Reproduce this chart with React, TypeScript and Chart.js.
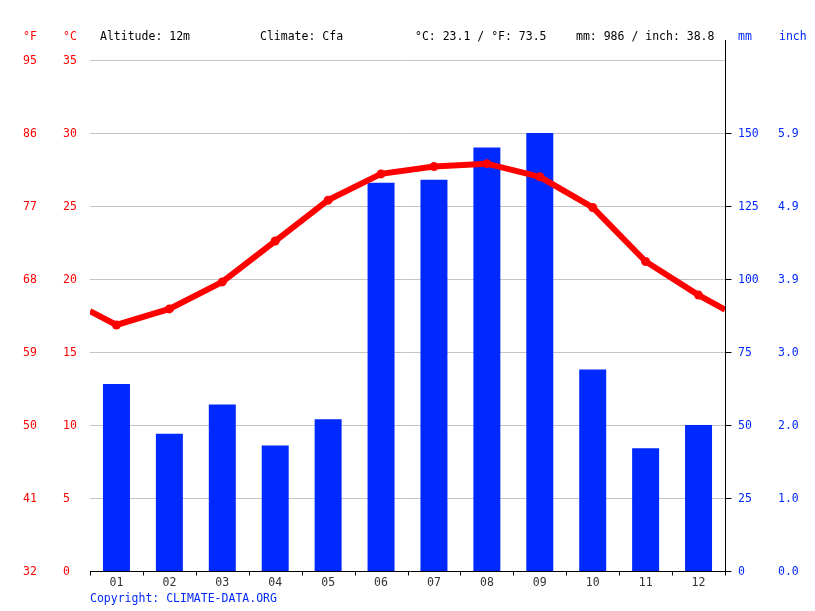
import React, { useEffect, useRef } from "react";
import Chart from "chart.js/auto";

const months = ["01", "02", "03", "04", "05", "06", "07", "08", "09", "10", "11", "12"];
const precipMm = [64, 47, 57, 43, 52, 133, 134, 145, 150, 69, 42, 50];
const tempC = [16.85, 17.95, 19.8, 22.6, 25.4, 27.2, 27.7, 27.9, 27.0, 24.9, 21.2, 18.9];
const tempEdgeStart = 17.8;
const tempEdgeEnd = 17.9;
const cTicks = [0, 5, 10, 15, 20, 25, 30, 35];
const fTicks = ["32", "41", "50", "59", "68", "77", "86", "95"];
const mmTicks = [0, 25, 50, 75, 100, 125, 150];
const inchTicks = ["0.0", "1.0", "2.0", "3.0", "3.9", "4.9", "5.9"];
const headerTexts = [
  { text: "°F", x: 23, color: "#ff0000" },
  { text: "°C", x: 63, color: "#ff0000" },
  { text: "Altitude: 12m", x: 100, color: "#000000" },
  { text: "Climate: Cfa", x: 260, color: "#000000" },
  { text: "°C: 23.1 / °F: 73.5", x: 415, color: "#000000" },
  { text: "mm: 986 / inch: 38.8", x: 576, color: "#000000" },
  { text: "mm", x: 738, color: "#0029ff" },
  { text: "inch", x: 779, color: "#0029ff" },
];
const copyright = "Copyright: CLIMATE-DATA.ORG";

const RED = "#ff0000";
const BLUE = "#0029ff";
const FONT = '11.5px "DejaVu Sans Mono", monospace';

const decor = {
  id: "decor",
  beforeDatasetsDraw(chart: any) {
    const { ctx, chartArea } = chart;
    const y = chart.scales.y;
    ctx.save();
    ctx.strokeStyle = "#c4c4c4";
    ctx.lineWidth = 1;
    cTicks.forEach((v) => {
      if (v === 0) return;
      const py = Math.round(y.getPixelForValue(v)) + 0.5;
      ctx.beginPath();
      ctx.moveTo(chartArea.left, py);
      ctx.lineTo(chartArea.right, py);
      ctx.stroke();
    });
    ctx.restore();
  },
  afterDraw(chart: any) {
    const { ctx, chartArea } = chart;
    const y = chart.scales.y;
    const ymm = chart.scales.ymm;
    const x = chart.scales.x;
    ctx.save();
    ctx.font = FONT;
    ctx.textBaseline = "middle";
    ctx.strokeStyle = "#000000";
    ctx.lineWidth = 1;
    const by = Math.round(chartArea.bottom) + 0.5;
    const rx = Math.round(chartArea.right) + 0.5;
    ctx.beginPath();
    ctx.moveTo(chartArea.left, by);
    ctx.lineTo(chartArea.right + 6, by);
    ctx.stroke();
    ctx.beginPath();
    ctx.moveTo(rx, 40);
    ctx.lineTo(rx, by);
    ctx.stroke();
    const step = (chartArea.right - chartArea.left) / months.length;
    for (let i = 0; i <= months.length; i++) {
      const px = Math.round(chartArea.left + i * step) + 0.5;
      ctx.beginPath();
      ctx.moveTo(px, by);
      ctx.lineTo(px, by + 4);
      ctx.stroke();
    }
    mmTicks.forEach((v) => {
      const py = Math.round(ymm.getPixelForValue(v)) + 0.5;
      ctx.beginPath();
      ctx.moveTo(rx, py);
      ctx.lineTo(rx + 6, py);
      ctx.stroke();
    });
    ctx.textAlign = "left";
    ctx.fillStyle = RED;
    cTicks.forEach((v, i) => {
      const py = y.getPixelForValue(v) + 1;
      ctx.fillText(String(v), 63, py);
      ctx.fillText(fTicks[i], 23, py);
    });
    ctx.fillStyle = BLUE;
    mmTicks.forEach((v, i) => {
      const py = ymm.getPixelForValue(v) + 1;
      ctx.fillText(String(v), 738, py);
      ctx.fillText(inchTicks[i], 778, py);
    });
    ctx.textAlign = "center";
    ctx.fillStyle = "#333333";
    months.forEach((m, i) => {
      ctx.fillText(m, x.getPixelForValue(i), 583);
    });
    ctx.textAlign = "left";
    headerTexts.forEach((h) => {
      ctx.fillStyle = h.color;
      ctx.fillText(h.text, h.x, 37);
    });
    ctx.fillStyle = BLUE;
    ctx.fillText(copyright, 90, 599.5);
    ctx.restore();
  },
};

export default function App() {
  const ref = useRef<HTMLCanvasElement>(null);
  useEffect(() => {
    if (!ref.current) return;
    const linePts = [
      { x: 0, y: tempEdgeStart },
      ...tempC.map((t, i) => ({ x: i + 0.5, y: t })),
      { x: months.length, y: tempEdgeEnd },
    ];
    const radii = linePts.map((_, i) => (i === 0 || i === linePts.length - 1 ? 0 : 4.5));
    const chart = new Chart(ref.current, {
      type: "bar",
      data: {
        labels: months,
        datasets: [
          {
            type: "line",
            data: linePts as any,
            xAxisID: "xl",
            yAxisID: "y",
            borderColor: RED,
            backgroundColor: RED,
            borderWidth: 6,
            pointRadius: radii,
            pointBackgroundColor: RED,
            pointBorderWidth: 0,
            tension: 0,
            clip: 0 as any,
            order: 0,
          } as any,
          {
            type: "bar",
            data: precipMm,
            xAxisID: "x",
            yAxisID: "ymm",
            backgroundColor: BLUE,
            grouped: false,
            categoryPercentage: 1,
            barPercentage: 0.51,
            order: 1,
          } as any,
        ],
      },
      options: {
        animation: false,
        responsive: false,
        devicePixelRatio: 1,
        layout: { padding: { left: 90, right: 90, top: 60, bottom: 40 } },
        plugins: { legend: { display: false }, tooltip: { enabled: false } },
        events: [],
        scales: {
          x: { type: "category", offset: true, display: false },
          xl: { type: "linear", min: 0, max: 12, offset: false, display: false },
          y: { type: "linear", min: 0, max: 35, display: false },
          ymm: { type: "linear", min: 0, max: 175, display: false },
        },
      },
      plugins: [decor],
    });
    return () => chart.destroy();
  }, []);
  return (
    <div style={{ position: "absolute", left: 0, top: 0, width: 815, height: 611, background: "#fff" }}>
      <canvas ref={ref} width={815} height={611} />
    </div>
  );
}
